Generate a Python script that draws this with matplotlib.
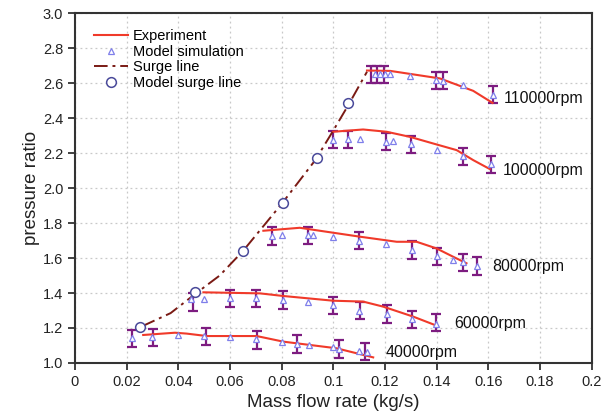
import matplotlib
matplotlib.use("Agg")
import matplotlib.pyplot as plt
import numpy as np

plt.rcParams['font.family'] = ['Liberation Sans', 'DejaVu Sans']

# ---------------- data ----------------
# Experiment lines
exp40_x = [0.0264, 0.0387, 0.0432, 0.051, 0.0703, 0.0806, 0.1012, 0.1154]
exp40_y = [1.160, 1.173, 1.168, 1.154, 1.154, 1.122, 1.084, 1.032]
exp60_x = [0.0497, 0.0716, 0.0806, 0.0999, 0.1115, 0.1193, 0.1309, 0.1393]
exp60_y = [1.404, 1.398, 1.383, 1.356, 1.351, 1.322, 1.265, 1.217]
exp80_x = [0.0729, 0.087, 0.1103, 0.1245, 0.1322, 0.1399, 0.1464, 0.1515]
exp80_y = [1.756, 1.773, 1.722, 1.693, 1.693, 1.655, 1.607, 1.570]
exp100_x = [0.0999, 0.1115, 0.1206, 0.1296, 0.1386, 0.1477, 0.1541, 0.1605]
exp100_y = [2.322, 2.335, 2.322, 2.293, 2.255, 2.217, 2.160, 2.109]
exp110_x = [0.113, 0.122, 0.1412, 0.1541, 0.1616]
exp110_y = [2.672, 2.670, 2.627, 2.556, 2.487]

# Model simulation points
sim40_x = [0.022, 0.030, 0.040, 0.050, 0.060, 0.070, 0.080, 0.086, 0.0905, 0.100, 0.102, 0.110, 0.113]
sim40_y = [1.145, 1.150, 1.160, 1.155, 1.147, 1.135, 1.118, 1.108, 1.100, 1.093, 1.080, 1.068, 1.060]
sim60_x = [0.045, 0.050, 0.060, 0.070, 0.0806, 0.0903, 0.100, 0.110, 0.1206, 0.1305, 0.1397]
sim60_y = [1.363, 1.368, 1.370, 1.370, 1.360, 1.350, 1.330, 1.300, 1.280, 1.250, 1.225]
sim80_x = [0.0761, 0.080, 0.0903, 0.0922, 0.100, 0.110, 0.1203, 0.1303, 0.1402, 0.1461, 0.150, 0.1554]
sim80_y = [1.725, 1.731, 1.730, 1.731, 1.722, 1.700, 1.680, 1.645, 1.610, 1.589, 1.575, 1.555]
sim100_x = [0.0999, 0.1057, 0.1103, 0.1203, 0.1232, 0.130, 0.1402, 0.150, 0.161]
sim100_y = [2.277, 2.280, 2.280, 2.265, 2.270, 2.250, 2.217, 2.185, 2.135]
sim110_x = [0.116, 0.118, 0.120, 0.1219, 0.1296, 0.1399, 0.1425, 0.1502, 0.1619]
sim110_y = [2.651, 2.651, 2.651, 2.651, 2.642, 2.620, 2.610, 2.589, 2.535]

# Error bars (centre values, +/- error)
bar_x = [0.0219, 0.0303, 0.0506, 0.0703, 0.0858, 0.1023, 0.1122,
         0.0455, 0.060, 0.070, 0.0806, 0.0999, 0.1103, 0.1206, 0.1305, 0.1397,
         0.0761, 0.0903, 0.110, 0.1303, 0.1402, 0.150, 0.1554,
         0.0999, 0.1057, 0.1203, 0.130, 0.150, 0.161,
         0.1145, 0.117, 0.1195, 0.1399, 0.1425, 0.1619]
bar_y = [1.141, 1.145, 1.150, 1.130, 1.108, 1.080, 1.067,
         1.350, 1.370, 1.370, 1.360, 1.330, 1.300, 1.280, 1.250, 1.230,
         1.725, 1.730, 1.700, 1.645, 1.610, 1.575, 1.555,
         2.277, 2.277, 2.265, 2.250, 2.182, 2.135,
         2.650, 2.650, 2.650, 2.615, 2.615, 2.535]
bar_err = 0.05

# Surge line and model surge line
surge_x = [0.026, 0.037, 0.047, 0.056, 0.065, 0.080, 0.093, 0.100, 0.106, 0.113]
surge_y = [1.210, 1.285, 1.400, 1.500, 1.640, 1.910, 2.160, 2.330, 2.480, 2.665]
msurge_x = [0.0251, 0.0464, 0.0651, 0.0806, 0.0935, 0.1057]
msurge_y = [1.207, 1.407, 1.642, 1.913, 2.173, 2.484]

speed_labels = ['110000rpm', '100000rpm', '80000rpm', '60000rpm', '40000rpm']
label_x = [0.166, 0.1656, 0.1616, 0.1466, 0.1203]
label_y = [2.514, 2.103, 1.550, 1.223, 1.059]

xticks = [0, 0.02, 0.04, 0.06, 0.08, 0.1, 0.12, 0.14, 0.16, 0.18, 0.2]
xticklabels = ['0', '0.02', '0.04', '0.06', '0.08', '0.1', '0.12', '0.14', '0.16', '0.18', '0.2']
yticks = [1.0, 1.2, 1.4, 1.6, 1.8, 2.0, 2.2, 2.4, 2.6, 2.8, 3.0]

# ---------------- plot ----------------
fig = plt.figure(figsize=(6.12, 4.12), dpi=100)
ax = fig.add_axes([0.1225, 0.119, 0.8445, 0.849])

red = '#f03a2a'
purple = '#7d1c80'
tri_col = '#7f7fea'
surge_col = '#7a1a14'
circ_col = '#4a4a9a'

ax.errorbar(bar_x, bar_y, yerr=bar_err, fmt='none', ecolor=purple,
            elinewidth=1.6, capsize=3.6, capthick=1.6, zorder=3)

exp_line = None
for xs, ys in [(exp40_x, exp40_y), (exp60_x, exp60_y), (exp80_x, exp80_y),
               (exp100_x, exp100_y), (exp110_x, exp110_y)]:
    exp_line, = ax.plot(xs, ys, color=red, lw=1.5, zorder=4)

sim_line = None
for xs, ys in [(sim40_x, sim40_y), (sim60_x, sim60_y), (sim80_x, sim80_y),
               (sim100_x, sim100_y), (sim110_x, sim110_y)]:
    sim_line, = ax.plot(xs, ys, linestyle='none', marker='^', markersize=5,
                        markerfacecolor='white', markeredgecolor=tri_col,
                        markeredgewidth=0.9, zorder=5)

surge_line, = ax.plot(surge_x, surge_y, color=surge_col, lw=1.4,
                      linestyle=(0, (7, 2.5, 1.5, 2.5)), zorder=4)
msurge_line, = ax.plot(msurge_x, msurge_y, linestyle='none', marker='o',
                       markersize=7, markerfacecolor='white',
                       markeredgecolor=circ_col, markeredgewidth=1.1, zorder=6)

for t, x, y in zip(speed_labels, label_x, label_y):
    ax.text(x, y, t, fontsize=11.5, ha='left', va='center', color='#111111')

ax.set_xlim(0, 0.2)
ax.set_ylim(1.0, 3.0)
ax.set_xticks(xticks)
ax.set_xticklabels(xticklabels)
ax.set_yticks(yticks)
ax.set_yticklabels([f'{v:.1f}' for v in yticks])
ax.tick_params(direction='out', length=5, width=1.3, labelsize=10.5,
               colors='#333333', labelcolor='#222222')
ax.grid(True, linestyle=(0, (1.5, 2.5)), color='#c8c8c8', lw=0.9)
ax.set_axisbelow(True)
for s in ax.spines.values():
    s.set_linewidth(1.5)
    s.set_color('#333333')

ax.set_xlabel('Mass flow rate (kg/s)', fontsize=13.5, color='#222222', labelpad=4)
ax.set_ylabel('pressure ratio', fontsize=13.5, color='#222222', labelpad=2)

leg = ax.legend([exp_line, sim_line, surge_line, msurge_line],
                ['Experiment', 'Model simulation', 'Surge line', 'Model surge line'],
                loc='upper left', bbox_to_anchor=(0.02, 0.98), frameon=False,
                fontsize=10.5, handlelength=2.3, handletextpad=0.35,
                labelspacing=0.12, borderaxespad=0.2)

fig.savefig('out.png', dpi=100)
